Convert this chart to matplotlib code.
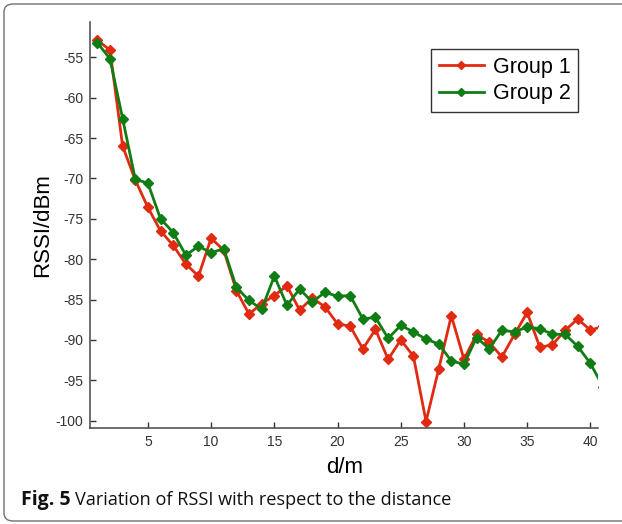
import matplotlib
matplotlib.use("Agg")
import matplotlib.pyplot as plt
from matplotlib.patches import FancyBboxPatch

distance = list(range(1, 42))
group1 = [-52.9, -54.1, -66.0, -70.2, -73.6, -76.5, -78.3, -80.6, -82.1, -77.4,
          -78.9, -83.9, -86.8, -85.5, -84.5, -83.3, -86.3, -84.8, -85.9, -88.0,
          -88.3, -91.1, -88.7, -92.4, -90.0, -92.0, -100.1, -93.6, -87.0, -92.4,
          -89.3, -90.3, -92.1, -89.3, -86.6, -90.9, -90.6, -88.8, -87.4, -88.8,
          -88.3]
group2 = [-53.2, -55.2, -62.6, -70.1, -70.6, -75.0, -76.7, -79.5, -78.4, -79.2,
          -78.7, -83.5, -85.1, -86.2, -82.1, -85.7, -83.7, -85.3, -84.1, -84.6,
          -84.5, -87.4, -87.2, -89.8, -88.2, -89.0, -89.9, -90.5, -92.6, -93.0,
          -89.7, -91.1, -88.8, -89.0, -88.4, -88.6, -89.3, -89.3, -90.8, -92.9,
          -95.8]
series_names = ["Group 1", "Group 2"]
xticks = [5, 10, 15, 20, 25, 30, 35, 40]
yticks = [-100, -95, -90, -85, -80, -75, -70, -65, -60, -55]

plt.rcParams['font.family'] = ['Liberation Sans', 'DejaVu Sans']
plt.rcParams['axes.unicode_minus'] = False

fig = plt.figure(figsize=(6.22, 5.24), dpi=100)
border = FancyBboxPatch((4 / 622, 3 / 524), 1.05, 1 - 7 / 524,
                        boxstyle="round,pad=0,rounding_size=0.015",
                        transform=fig.transFigure, facecolor='none',
                        edgecolor='#707070', linewidth=1.0, zorder=-1)
fig.patches.append(border)

ax = fig.add_axes([0.1453, 0.1832, 0.8161, 0.7754])
ax.patch.set_alpha(0)

red = '#e02a12'
green = '#0f7d14'
ax.plot(distance, group1, '-', color=red, lw=2.0, marker='D', ms=5,
        mfc=red, mec=red, label=series_names[0])
ax.plot(distance, group2, '-', color=green, lw=2.0, marker='D', ms=5,
        mfc=green, mec=green, label=series_names[1])

ax.set_xlim(0.45, 40.6)
ax.set_ylim(-100.9, -50.6)
ax.set_xticks(xticks)
ax.set_yticks(yticks)
ax.tick_params(direction='in', length=4, width=1, colors='#333333',
               labelsize=10, pad=5)
for s in ['top', 'right']:
    ax.spines[s].set_visible(False)
for s in ['left', 'bottom']:
    ax.spines[s].set_color('#555555')
    ax.spines[s].set_linewidth(1.2)

ax.set_xlabel('d/m', fontsize=16, labelpad=6)
ax.set_ylabel('RSSI/dBm', fontsize=16, labelpad=2)

leg = ax.legend(loc='upper right', bbox_to_anchor=(0.9606, 0.9316),
                borderaxespad=0, fontsize=15.5, fancybox=False, framealpha=1,
                edgecolor='#333333', handlelength=2.1, handletextpad=0.4,
                borderpad=0.35, labelspacing=0.25, markerscale=0.8)
leg.get_frame().set_linewidth(1.0)

fig.text(0.033, 0.036, 'Fig. 5', fontsize=14, fontweight='bold',
         family=['Open Sans', 'DejaVu Sans'], color='#111111')
fig.text(75 / 622, 0.036, 'Variation of RSSI with respect to the distance',
         fontsize=13.1, family=['Open Sans', 'DejaVu Sans'], color='#111111',
         va='baseline', ha='left')

fig.savefig('out.png', dpi=100)
